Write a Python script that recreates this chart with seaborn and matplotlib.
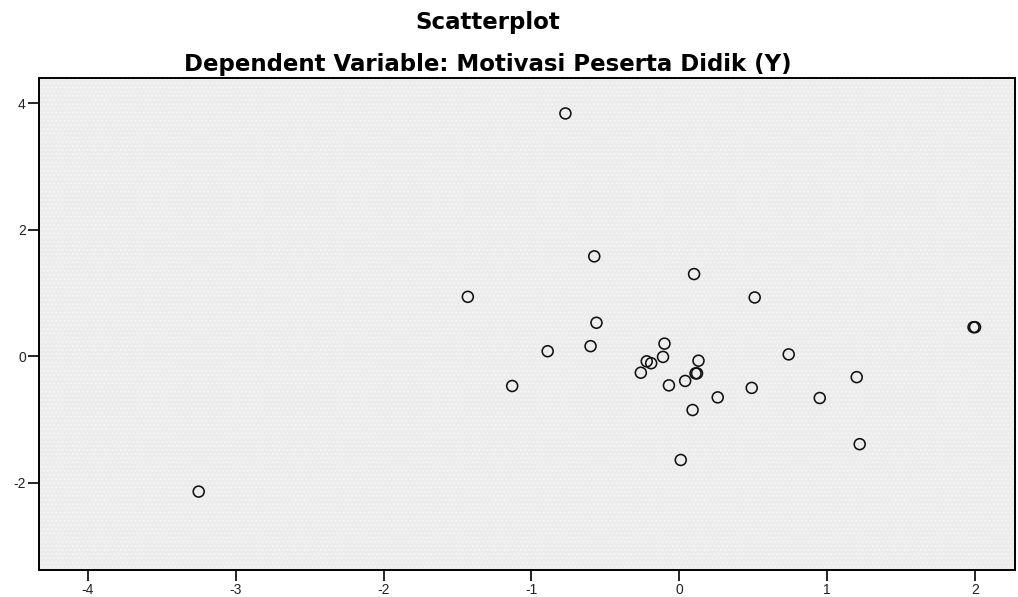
import pandas as pd
import matplotlib
matplotlib.use("Agg")
import matplotlib.pyplot as plt
import seaborn as sns

# standardized predicted value (x) vs standardized residual (y)
pred_z = [-0.77, -0.575, 0.10, -1.43, 0.51, -0.56, -0.10, -0.60, -0.89, -0.11,
          -0.22, -0.19, 0.13, 0.74, 1.99, 2.00, -0.26, 0.11, 0.12, 0.04,
          -0.07, -1.13, 0.49, 1.20, 0.26, 0.95, 0.09, 1.22, 0.01, -3.25]
resid_z = [3.84, 1.58, 1.30, 0.94, 0.93, 0.53, 0.20, 0.16, 0.08, -0.01,
           -0.08, -0.11, -0.07, 0.03, 0.46, 0.46, -0.26, -0.27, -0.27, -0.39,
           -0.46, -0.47, -0.50, -0.33, -0.65, -0.66, -0.85, -1.39, -1.64, -2.14]

title = "Scatterplot"
subtitle = "Dependent Variable: Motivasi Peserta Didik (Y)"
x_ticks = [-4, -3, -2, -1, 0, 1, 2]
y_ticks = [-2, 0, 2, 4]

sns.set_style("white", {"axes.facecolor": "#ececec", "axes.edgecolor": "black"})
plt.rcParams["font.family"] = ["Liberation Sans", "DejaVu Sans"]
plt.rcParams["axes.unicode_minus"] = False
plt.rcParams["hatch.linewidth"] = 0.6

df = pd.DataFrame({"pred": pred_z, "resid": resid_z})

fig = plt.figure(figsize=(10.18, 5.97), dpi=100)
ax = fig.add_axes([0.0383, 0.0452, 0.9587, 0.8241])

# light stipple like the SPSS chart background
ax.patch.set_edgecolor("#f8f8f8")
ax.patch.set_hatch("....")

sns.scatterplot(data=df, x="pred", y="resid", ax=ax, marker="o",
                facecolor="none", edgecolor="#111111", s=62, linewidth=1.15)

ax.set_xlim(-4.33, 2.27)
ax.set_ylim(-3.38, 4.40)
ax.set_xticks(x_ticks)
ax.set_yticks(y_ticks)
ax.set_xlabel("")
ax.set_ylabel("")
ax.tick_params(axis="both", direction="out", length=8, width=1.2,
               bottom=True, left=True,
               color="black", labelsize=10, labelcolor="#222222", pad=1.5)
for side in ax.spines.values():
    side.set_linewidth(1.4)

# the SPSS title font is a wide bold sans
fig.text(0.479, 0.9514, title, ha="center", va="baseline", family="DejaVu Sans",
         fontsize=16.5, fontweight="bold", color="black")
fig.text(0.479, 0.881, subtitle, ha="center", va="baseline", family="DejaVu Sans",
         fontsize=16.5, fontweight="bold", color="black")

fig.savefig("out.png", dpi=100)
